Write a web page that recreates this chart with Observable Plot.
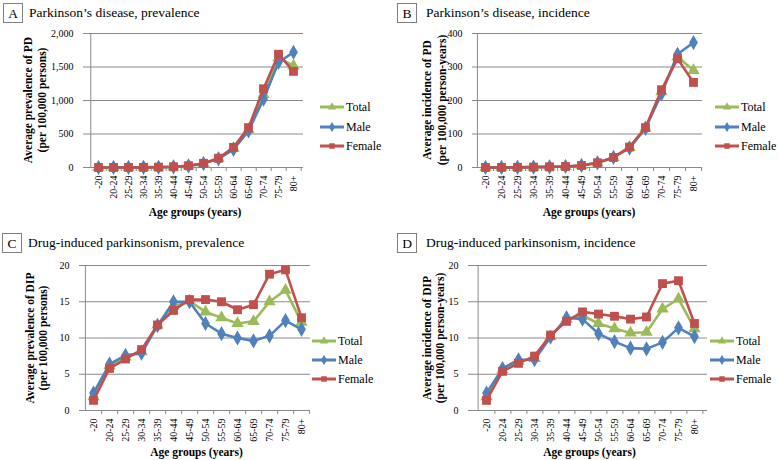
<!DOCTYPE html>
<html><head><meta charset="utf-8">
<script src="https://cdn.jsdelivr.net/npm/d3@7"></script>
<script src="https://cdn.jsdelivr.net/npm/@observablehq/plot@0.6"></script>
<style>
body{margin:0;background:#fff;}
#root{position:relative;width:778px;height:460px;overflow:hidden;font-family:"Liberation Serif","Times New Roman",serif;color:#000;}
.panel{position:absolute;height:230px;}
.panel svg.plot{position:absolute;left:0;top:0;}
.box{position:absolute;width:20px;height:20px;border:1px solid #7f7f7f;box-sizing:border-box;font-size:13.5px;line-height:19px;text-align:center;}
.ttl{position:absolute;font-size:13.5px;line-height:20px;white-space:nowrap;}
.ytl{position:absolute;font-size:11.5px;font-weight:bold;white-space:nowrap;transform:translate(-50%,-50%) rotate(-90deg);}
.xtl{position:absolute;font-size:11.5px;font-weight:bold;white-space:nowrap;transform:translate(-50%,-50%);}
.leg{position:absolute;font-size:12px;white-space:nowrap;display:flex;align-items:center;height:14px;transform:translateY(-50%);}
.leg svg{margin-right:2px;}
[aria-label="y-axis tick"]{stroke:#8a8a8a;}
</style></head><body><div id="root"></div>
<script>
const ageGroups = ["-20","20-24","25-29","30-34","35-39","40-44","45-49","50-54","55-59","60-64","65-69","70-74","75-79","80+"];
const seriesNames = ["Total","Male","Female"];
const seriesColors = ["#9BBB59","#4F81BD","#C0504D"];
const seriesSymbols = ["triangle","diamond","square"];

// A: Parkinson's disease, prevalence
const pdPrevTotal  = [0, 0.5, 1, 2, 5, 10, 25, 60, 135, 290, 565, 1090, 1640, 1515];
const pdPrevMale   = [0, 0.5, 1, 2, 4, 9, 23, 58, 130, 270, 545, 1020, 1570, 1720];
const pdPrevFemale = [0, 0.5, 1, 2, 5, 11, 27, 62, 138, 300, 595, 1175, 1690, 1435];
// B: Parkinson's disease, incidence
const pdIncTotal  = [0, 0.3, 0.5, 1, 2, 3, 6, 14, 30, 60, 118, 226, 330, 290];
const pdIncMale   = [0, 0.3, 0.5, 1, 2, 3, 6, 14, 30, 58, 117, 220, 338, 373];
const pdIncFemale = [0, 0.3, 0.5, 1, 2, 3, 6, 14, 30, 61, 119, 232, 325, 254];
// C: Drug-induced parkinsonism, prevalence
const dipPrevTotal  = [1.9, 6.2, 7.4, 8.1, 11.8, 14.4, 15.1, 13.6, 12.8, 12.0, 12.3, 15.0, 16.6, 12.2];
const dipPrevMale   = [2.4, 6.4, 7.6, 7.9, 11.7, 15.0, 15.0, 12.0, 10.6, 10.0, 9.6, 10.3, 12.4, 11.2];
const dipPrevFemale = [1.4, 5.8, 7.1, 8.4, 11.8, 13.8, 15.3, 15.3, 15.0, 13.9, 14.6, 18.8, 19.4, 12.8];
// D: Drug-induced parkinsonism, incidence
const dipIncTotal  = [1.9, 5.6, 6.8, 7.2, 10.2, 12.6, 13.1, 12.0, 11.3, 10.7, 10.8, 14.0, 15.4, 11.3];
const dipIncMale   = [2.4, 5.8, 7.0, 7.0, 10.1, 12.8, 12.6, 10.6, 9.5, 8.6, 8.5, 9.4, 11.4, 10.2];
const dipIncFemale = [1.4, 5.4, 6.5, 7.5, 10.4, 12.3, 13.6, 13.3, 13.0, 12.6, 12.9, 17.5, 17.9, 12.0];

const yTicksA = [0, 500, 1000, 1500, 2000];
const yTicksB = [0, 100, 200, 300, 400];
const yTicksC = [0, 5, 10, 15, 20];
const yTicksD = [0, 5, 10, 15, 20];

const panelLetters = ["A", "B", "C", "D"];
const panelTitles = ["Parkinson\u2019s disease, prevalence", "Parkinson\u2019s disease, incidence",
                     "Drug-induced parkinsonism, prevalence", "Drug-induced parkinsonism, incidence"];
const yTitles = [["Average prevalence of PD", "(per 100,000 persons)"],
                 ["Average incidence of PD", "(per 100,000 person-years)"],
                 ["Average prevalence of DIP", "(per 100,000 persons)"],
                 ["Average incidence of DIP", "(per 100,000 person-years)"]];
const xTitle = "Age groups (years)";

// layout (pixels, panel-relative)
const layouts = [
  {left:0,   top:0,   w:389, ml:87, mr:86, mt:33, mb:63, boxX:3, titleX:29, yt:[28,42], xtY:212, legX:320, legY:[107,127,146]},
  {left:390, top:0,   w:388, ml:86, mr:76, mt:33, mb:63, boxX:7, titleX:36, yt:[37,52], xtY:212, legX:325, legY:[107,127,146]},
  {left:0,   top:230, w:389, ml:83, mr:79, mt:35, mb:50, boxX:2, titleX:28, yt:[30,43], xtY:222, legX:312, legY:[111,130,149]},
  {left:390, top:230, w:388, ml:82, mr:71, mt:35, mb:50, boxX:7, titleX:36, yt:[37,50], xtY:222, legX:320, legY:[111,130,149]}
];
const panelData = [
  [pdPrevTotal, pdPrevMale, pdPrevFemale],
  [pdIncTotal, pdIncMale, pdIncFemale],
  [dipPrevTotal, dipPrevMale, dipPrevFemale],
  [dipIncTotal, dipIncMale, dipIncFemale]
];
const panelTicks = [yTicksA, yTicksB, yTicksC, yTicksD];
const fmtComma = d3.format(",");
const H = 230;
const gray = "#8a8a8a";
const symbolRadius = {triangle: 4.6, diamond: 4.6, square: 5.0};

function makePlot(p, values, yTicks) {
  const innerW = p.w - p.ml - p.mr;
  const step = innerW / ageGroups.length;
  const marks = [
    Plot.ruleY(yTicks, {stroke: gray, strokeWidth: 1}),
    Plot.ruleX([ageGroups[0]], {x: d => d, dx: -step / 2, stroke: gray}),
    Plot.ruleX(ageGroups, {x: d => d, y1: 0, y2: 0, dx: step / 2, insetBottom: -4, stroke: gray}),
    Plot.axisY({ticks: yTicks, tickSize: 4, tickPadding: 10, tickFormat: fmtComma, label: null, fill: "#000"}),
    Plot.axisX({tickSize: 0, tickPadding: 8, tickRotate: -90, label: null, fill: "#000"})
  ];
  seriesNames.forEach((s, si) => {
    const data = ageGroups.map((a, i) => ({age: a, value: values[si][i]}));
    marks.push(Plot.line(data, {x: "age", y: "value", stroke: seriesColors[si], strokeWidth: 2.6}));
    marks.push(Plot.dot(data, {x: "age", y: "value", symbol: seriesSymbols[si], r: symbolRadius[seriesSymbols[si]], fill: seriesColors[si], stroke: "none"}));
  });
  const svg = Plot.plot({
    width: p.w, height: H,
    marginLeft: p.ml, marginRight: p.mr, marginTop: p.mt, marginBottom: p.mb,
    x: {type: "point", domain: ageGroups, padding: 0.5},
    y: {domain: [yTicks[0], yTicks[yTicks.length - 1]]},
    style: {fontFamily: "'Liberation Serif','Times New Roman',serif", fontSize: "10px", background: "transparent", color: "#000", overflow: "visible"},
    marks
  });
  svg.classList.add("plot");
  return svg;
}

const root = document.getElementById("root");
const symbolTypes = {triangle: d3.symbolTriangle, diamond: d3.symbolDiamond, square: d3.symbolSquare};

layouts.forEach((p, k) => {
  const panel = document.createElement("div");
  panel.className = "panel";
  panel.style.left = p.left + "px";
  panel.style.top = p.top + "px";
  panel.style.width = p.w + "px";
  root.appendChild(panel);

  panel.appendChild(makePlot(p, panelData[k], panelTicks[k]));

  const box = document.createElement("div");
  box.className = "box";
  box.style.left = p.boxX + "px"; box.style.top = "3px";
  box.textContent = panelLetters[k];
  panel.appendChild(box);

  const ttl = document.createElement("div");
  ttl.className = "ttl";
  ttl.style.left = p.titleX + "px"; ttl.style.top = "3px";
  ttl.textContent = panelTitles[k];
  panel.appendChild(ttl);

  const cy = (p.mt + (H - p.mb)) / 2;
  yTitles[k].forEach((t, j) => {
    const d = document.createElement("div");
    d.className = "ytl";
    d.style.left = p.yt[j] + "px"; d.style.top = cy + "px";
    d.textContent = t;
    panel.appendChild(d);
  });

  const xt = document.createElement("div");
  xt.className = "xtl";
  xt.style.left = (p.ml + (p.w - p.mr - p.ml) / 2) + "px";
  xt.style.top = p.xtY + "px";
  xt.textContent = xTitle;
  panel.appendChild(xt);

  seriesNames.forEach((s, si) => {
    const lg = document.createElement("div");
    lg.className = "leg";
    lg.style.left = p.legX + "px"; lg.style.top = p.legY[si] + "px";
    const sv = d3.create("svg").attr("width", 24).attr("height", 10);
    sv.append("line").attr("x1", 0).attr("x2", 24).attr("y1", 5).attr("y2", 5)
      .attr("stroke", seriesColors[si]).attr("stroke-width", 3);
    sv.append("path").attr("transform", "translate(12,5)")
      .attr("d", d3.symbol(symbolTypes[seriesSymbols[si]], 30)())
      .attr("fill", seriesColors[si]);
    lg.appendChild(sv.node());
    lg.appendChild(document.createTextNode(s));
    panel.appendChild(lg);
  });
});
</script></body></html>
